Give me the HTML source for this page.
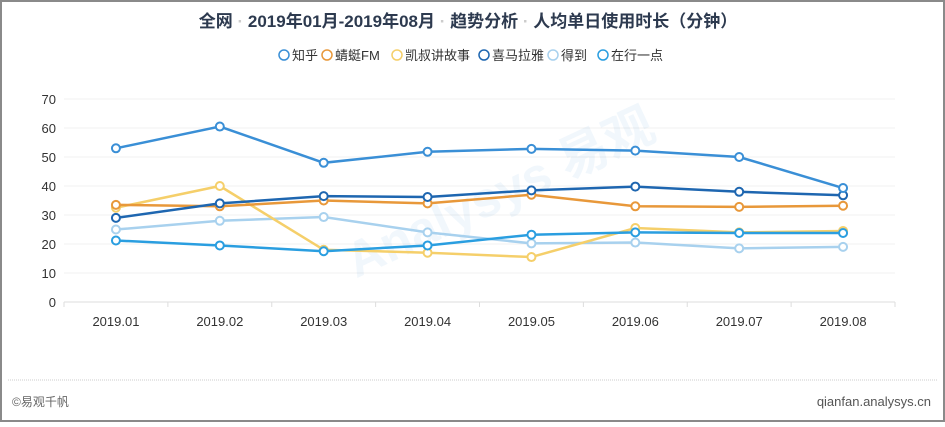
<!DOCTYPE html>
<html><head><meta charset="utf-8"><style>
html,body{margin:0;padding:0;background:#fff}
body{width:945px;height:422px;overflow:hidden;font-family:"Liberation Sans","Noto Sans CJK SC",sans-serif}
</style></head><body>
<svg id="chart" width="945" height="422" xmlns="http://www.w3.org/2000/svg" font-family="'Liberation Sans','Noto Sans CJK SC',sans-serif">
<rect x="1" y="1" width="943" height="420" fill="#fff" stroke="#8a8a8a" stroke-width="2"/>
<text x="468" y="27" text-anchor="middle" font-size="17" fill="#2d3a4f" font-weight="bold">全网 <tspan fill="#ccc">·</tspan> 2019年01月-2019年08月 <tspan fill="#ccc">·</tspan> 趋势分析 <tspan fill="#ccc">·</tspan> 人均单日使用时长（分钟）</text>
<g id="legend"></g>
<g id="grid"></g>
<text x="330" y="240" font-size="50" fill="#3a8fd6" fill-opacity="0.07" font-weight="bold" transform="rotate(-25 430 200)">Analysys 易观</text>
<g id="series"></g>
<line x1="8" y1="380" x2="937" y2="380" stroke="#ccc" stroke-dasharray="1 1"/>
<text x="12" y="406" font-size="12" fill="#666">©易观千帆</text>
<text x="931" y="406" font-size="13" fill="#555" text-anchor="end">qianfan.analysys.cn</text>
</svg>
<script>
const categories=["2019.01","2019.02","2019.03","2019.04","2019.05","2019.06","2019.07","2019.08"];
const yTicks=[0,10,20,30,40,50,60,70];
const seriesNames=["知乎","蜻蜓FM","凯叔讲故事","喜马拉雅","得到","在行一点"];
const seriesColors=["#3a8fd6","#e8983a","#f5cf6a","#1e66b0","#a8d1ee","#2a9ee0"];
const zhihu=[53,60.5,48,51.8,52.8,52.2,50,39.3];
const qingting=[33.5,33,35,34,37,33,32.8,33.2];
const kaishu=[32.5,40,18,17,15.5,25.5,24,24.5];
const ximalaya=[29,34,36.5,36.2,38.5,39.8,38,36.8];
const dedao=[25,28,29.3,24,20.2,20.5,18.5,19];
const zaihang=[21.2,19.5,17.5,19.5,23.2,24,23.8,23.8];
const seriesData=[zhihu,qingting,kaishu,ximalaya,dedao,zaihang];
const NS="http://www.w3.org/2000/svg";
const x0=64,x1=895,y0=302,yTop=99;
const band=(x1-x0)/categories.length;
const xs=i=>x0+band*(i+0.5);
const ys=v=>y0-(v/70)*(y0-yTop);
function mk(t,a,p){const e=document.createElementNS(NS,t);for(const k in a)e.setAttribute(k,a[k]);p.appendChild(e);return e;}
const grid=document.getElementById('grid');
yTicks.forEach(t=>{
  const l=mk('line',{x1:x0,x2:x1,y1:ys(t),y2:ys(t),stroke:t===0?'#ddd':'#f0f0f0'},grid);
  
  
  const tx=mk('text',{x:56,y:ys(t)+5,'text-anchor':'end','font-size':13,fill:'#333'},grid);
  tx.textContent=t;
  
  
});
for(let i=0;i<=categories.length;i++){
  const l=mk('line',{x1:x0+band*i,x2:x0+band*i,y1:y0,y2:y0+5,stroke:'#ddd'},grid);
  
  
}
categories.forEach((c,i)=>{
  const tx=mk('text',{x:xs(i),y:326,'text-anchor':'middle','font-size':13,fill:'#333'},grid);
  tx.textContent=c;
  
  
});
const sg=document.getElementById('series');
const order=[4,2,1,5,3,0];
order.forEach(s=>{
  const g=mk('g',{},sg);
  
  
  const pts=seriesData[s].map((v,i)=>xs(i)+','+ys(v)).join(' ');
  const pl=mk('polyline',{points:pts,fill:'none',stroke:seriesColors[s],'stroke-width':2.5},g);
  
  
  seriesData[s].forEach((v,i)=>{
    const c=mk('circle',{cx:xs(i),cy:ys(v),r:4,fill:'#fff',stroke:seriesColors[s],'stroke-width':2},g);
    
    
  });
});
const lg=document.getElementById('legend');
const lx=[284,327,397,484,553,603];
seriesNames.forEach((n,i)=>{
  const g=mk('g',{},lg);
  
  
  mk('circle',{cx:lx[i],cy:55,r:5,fill:'#fff',stroke:seriesColors[i],'stroke-width':1.5},g);
  const t=mk('text',{x:lx[i]+8,y:60,'font-size':13,fill:'#333'},g);
  t.textContent=n;
});
</script>
</body></html>
